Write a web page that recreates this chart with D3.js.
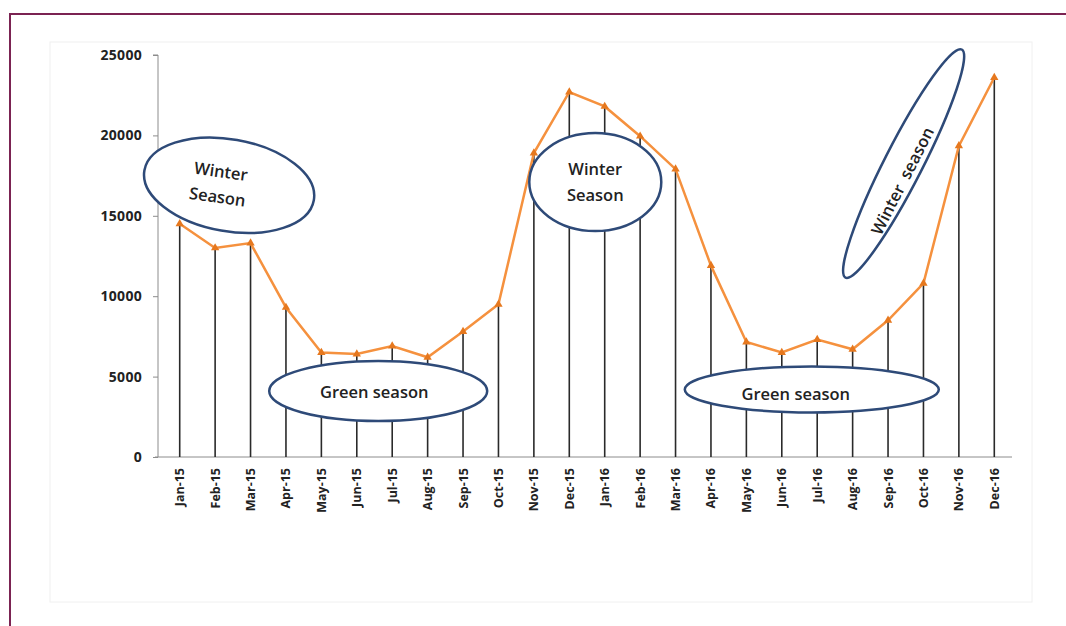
<!DOCTYPE html>
<html>
<head>
<meta charset="utf-8">
<script src="https://cdn.jsdelivr.net/npm/d3@7"></script>
<style>
  body { margin: 0; background: #fff; }
  text { font-family: "Open Sans", Lato, sans-serif; }
</style>
</head>
<body>
<div id="chart"></div>
<script>
// monthly values
const months = ["Jan-15", "Feb-15", "Mar-15", "Apr-15", "May-15", "Jun-15", "Jul-15", "Aug-15",
  "Sep-15", "Oct-15", "Nov-15", "Dec-15", "Jan-16", "Feb-16", "Mar-16", "Apr-16", "May-16",
  "Jun-16", "Jul-16", "Aug-16", "Sep-16", "Oct-16", "Nov-16", "Dec-16"];
const visitors = [14500, 13000, 13300, 9300, 6500, 6400, 6900, 6200, 7800, 9500, 18900, 22700,
  21800, 19950, 17900, 11900, 7150, 6500, 7300, 6700, 8500, 10800, 19350, 23600];
const yTicks = [0, 5000, 10000, 15000, 20000, 25000];

// callouts: anchored on a month and a value
const callouts = [
  { lines: ["Winter", "Season"], month: "Feb-15", value: 16900, rx: 86, ry: 46, angle: 10, textAngle: 8, dx: 14, tx: -10, ty: 0 },
  { lines: ["Winter", "Season"], month: "Dec-15", value: 17100, rx: 66, ry: 49, angle: 0, textAngle: 0, dx: 26, tx: 0, ty: 0 },
  { lines: ["Winter  season"], month: "Aug-16", value: 18250, rx: 128, ry: 19, angle: -63, textAngle: -63, dx: 51, tx: -16, ty: 7 },
  { lines: ["Green season"], month: "Jul-15", value: 4100, rx: 109, ry: 30, angle: 0, textAngle: 0, dx: -14, tx: -4, ty: 1 },
  { lines: ["Green season"], month: "Jun-16", value: 4200, rx: 127, ry: 23, angle: 0, textAngle: 0, dx: 30, tx: -16, ty: 5 }
];

const width = 1066, height = 626;
const svg = d3.select("#chart").append("svg").attr("width", width).attr("height", height);

// outer frame
svg.append("rect").attr("x", 10).attr("y", 14).attr("width", width + 20).attr("height", height + 20)
    .attr("fill", "none").attr("stroke", "#7b2352").attr("stroke-width", 2);
svg.append("rect").attr("x", 50).attr("y", 42).attr("width", 982).attr("height", 560)
    .attr("fill", "none").attr("stroke", "#f0f0f0").attr("stroke-width", 1);

const x = d3.scaleBand().domain(months).range([162, 1012]);
const y = d3.scaleLinear().domain([0, 25000]).range([457, 55]);
const cx = m => x(m) + x.bandwidth() / 2;

// axes
const yAxis = svg.append("g").attr("transform", "translate(158,0)")
    .call(d3.axisLeft(y).tickValues(yTicks).tickSize(5).tickPadding(11).tickFormat(d3.format("d")));
yAxis.select(".domain").attr("stroke", "#8c8c8c").attr("d", "M-5," + y(25000) + "H0V" + y(0));
yAxis.selectAll(".tick line").attr("stroke", "#8c8c8c");
yAxis.selectAll(".tick text").attr("fill", "#222").style("font-size", "14px").style("font-weight", "bold")
    .style("letter-spacing", "0.3px");

const xAxis = svg.append("g").attr("transform", "translate(0," + y(0) + ")")
    .call(d3.axisBottom(x).tickSize(0).tickPadding(0));
xAxis.select(".domain").attr("stroke", "#8c8c8c").attr("d", "M155,0H1012");
xAxis.selectAll(".tick text")
    .attr("transform", "rotate(-90)")
    .attr("x", -11).attr("y", 0).attr("dy", "0.36em")
    .attr("text-anchor", "end")
    .attr("fill", "#222").style("font-size", "12.5px").style("font-weight", "bold");

// drop lines
svg.append("g").selectAll("line").data(months).join("line")
    .attr("x1", d => cx(d)).attr("x2", d => cx(d))
    .attr("y1", (d, i) => y(visitors[i])).attr("y2", y(0))
    .attr("stroke", "#2a2a2a").attr("stroke-width", 1.6);

// series line
const line = d3.line().x((d, i) => cx(months[i])).y(d => y(d));
svg.append("path").datum(visitors).attr("d", line)
    .attr("fill", "none").attr("stroke", "#f5913e").attr("stroke-width", 2.5);
svg.append("g").selectAll("path").data(visitors).join("path")
    .attr("transform", (d, i) => "translate(" + cx(months[i]) + "," + y(d) + ")")
    .attr("d", d3.symbol(d3.symbolTriangle, 30))
    .attr("fill", "#e6781e");

// callouts
const notes = svg.append("g").selectAll("g").data(callouts).join("g")
    .attr("transform", d => "translate(" + (cx(d.month) + d.dx) + "," + y(d.value) + ")");
notes.append("ellipse")
    .attr("rx", d => d.rx).attr("ry", d => d.ry)
    .attr("transform", d => "rotate(" + d.angle + ")")
    .attr("fill", "#fff").attr("stroke", "#2e4a78").attr("stroke-width", 2.5);
notes.each(function(d) {
  const t = d3.select(this).append("text")
      .attr("transform", "rotate(" + d.textAngle + ") translate(0," + d.ty + ")")
      .attr("text-anchor", "middle").attr("fill", "#222")
      .style("font-size", "16.5px").style("font-weight", "600")
      .style("white-space", "pre");
  const n = d.lines.length;
  d.lines.forEach((l, i) => {
    t.append("tspan").attr("x", d.tx)
        .attr("dy", i === 0 ? (0.35 - (n - 1) * 0.75) + "em" : "1.55em").text(l);
  });
});
</script>
</body>
</html>
